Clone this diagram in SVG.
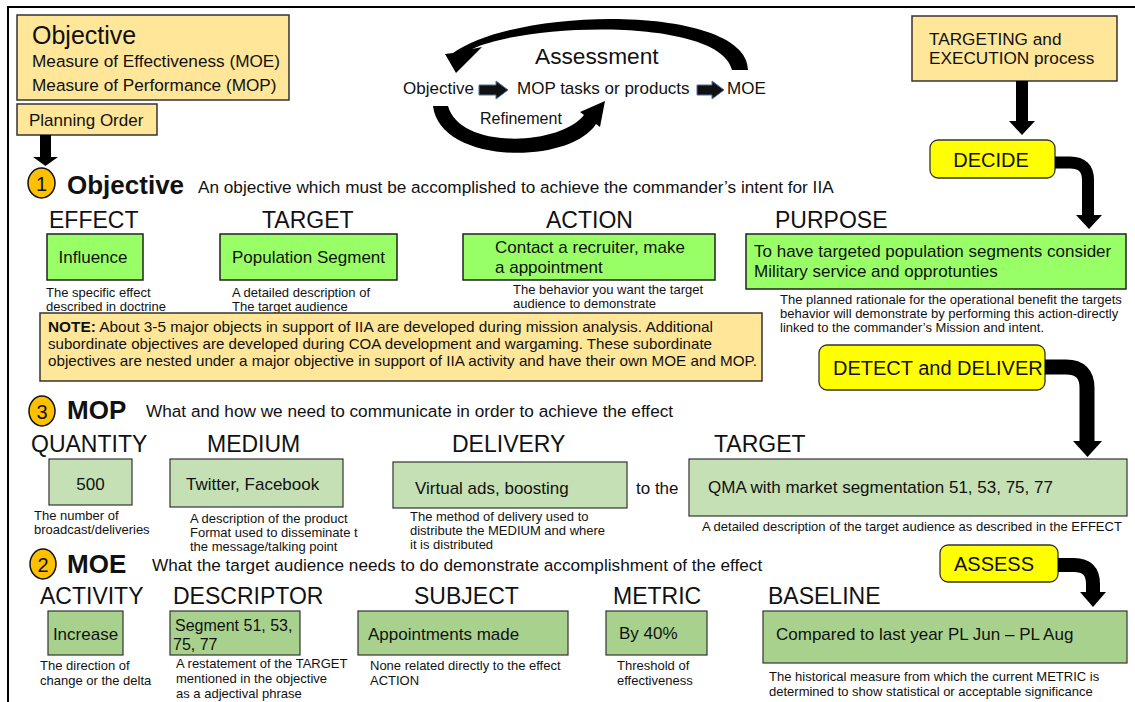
<svg xmlns="http://www.w3.org/2000/svg" width="1135" height="702" viewBox="0 0 1135 702">
<style>
text{font-family:"Liberation Sans",Arial,sans-serif;fill:#111}
.tan{fill:#FFE699;stroke:#333;stroke-width:1.5}
.g1{fill:#99FF66;stroke:#222;stroke-width:1.5}
.g2{fill:#C5E0B4;stroke:#333;stroke-width:1.2}
.g3{fill:#A9D18E;stroke:#333;stroke-width:1.2}
.yel{fill:#FFFF00;stroke:#333;stroke-width:1.3}
.num{fill:#FFC000;stroke:#111;stroke-width:1.5}
.hd{font-size:23px}
.bx{font-size:17px}
.ds{font-size:13px}
.big{font-size:26px;font-weight:bold}
.sec{font-size:17.2px}
.yt{font-size:20px}
.thick{fill:none;stroke:#000}
</style>
<rect x="0" y="0" width="1135" height="702" fill="#fff"/>
<path d="M8,702 V7 H1135" fill="none" stroke="#000" stroke-width="2"/>

<g id="legend">
<rect class="tan" x="17" y="15" width="272" height="85"/>
<text x="32" y="44" style="font-size:25px">Objective</text>
<text x="32" y="67" style="font-size:17.2px">Measure of Effectiveness (MOE)</text>
<text x="32" y="91" style="font-size:17.2px">Measure of Performance (MOP)</text>
</g>
<g id="planning-order">
<rect class="tan" x="17" y="104" width="140" height="31"/>
<text x="29" y="126" style="font-size:17px">Planning Order</text>
</g>

<g id="assessment-cycle">
<text x="535" y="64" style="font-size:22.7px">Assessment</text>
<text x="403" y="94" style="font-size:17px">Objective</text>
<text x="517" y="94" style="font-size:17px">MOP tasks or products</text>
<text x="727" y="94" style="font-size:17px">MOE</text>
<text x="480" y="124" style="font-size:16px">Refinement</text>
</g>

<g id="targeting">
<rect class="tan" x="912" y="16" width="205" height="65"/>
<text x="929" y="45" style="font-size:17.2px">TARGETING and</text>
<text x="929" y="64" style="font-size:17.2px">EXECUTION process</text>
</g>
<g id="decide">
<rect class="yel" x="930" y="140" width="125" height="38" rx="8"/>
<text x="991" y="167" text-anchor="middle" class="yt">DECIDE</text>
</g>
<g id="detect-deliver">
<rect class="yel" x="819" y="345" width="226" height="45" rx="8"/>
<text x="833" y="375" class="yt">DETECT and DELIVER</text>
</g>
<g id="assess">
<rect class="yel" x="940" y="545" width="118" height="37" rx="8"/>
<text x="954" y="571" class="yt">ASSESS</text>
</g>

<g id="objective-section">
<ellipse class="num" cx="41.5" cy="183" rx="13.5" ry="15"/>
<text x="41.5" y="191" text-anchor="middle" style="font-size:20px">1</text>
<text x="67" y="194" class="big">Objective</text>
<text x="198" y="193" class="sec">An objective which must be accomplished to achieve the commander’s intent for IIA</text>
</g>
<g id="effect">
<text x="49" y="228" class="hd">EFFECT</text>
<rect class="g1" x="47" y="234" width="96" height="46"/>
<text x="93" y="263" text-anchor="middle" class="bx">Influence</text>
<text x="46" y="297" class="ds">The specific effect</text>
<text x="46" y="311" class="ds">described in doctrine</text>
</g>
<g id="target-obj">
<text x="262" y="228" class="hd">TARGET</text>
<rect class="g1" x="220" y="234" width="177" height="46"/>
<text x="308.5" y="263" text-anchor="middle" class="bx">Population Segment</text>
<text x="232" y="297" class="ds">A detailed description of</text>
<text x="232" y="311" class="ds">The target audience</text>
</g>
<g id="action">
<text x="546" y="228" class="hd">ACTION</text>
<rect class="g1" x="463" y="234" width="252" height="46"/>
<text x="495" y="253" class="bx">Contact a recruiter, make</text>
<text x="495" y="273" class="bx">a appointment</text>
<text x="513" y="294" class="ds">The behavior you want the target</text>
<text x="513" y="308" class="ds">audience to demonstrate</text>
</g>
<g id="purpose">
<text x="775" y="228" class="hd">PURPOSE</text>
<rect class="g1" x="746" y="234" width="380" height="55"/>
<text x="754" y="257" class="bx">To have targeted population segments consider</text>
<text x="754" y="277" class="bx">Military service and opprotunties</text>
<text x="780" y="304" class="ds">The planned rationale for the operational benefit the targets</text>
<text x="780" y="318" class="ds">behavior will demonstrate by performing this action-directly</text>
<text x="780" y="332" class="ds">linked to the commander’s Mission and intent.</text>
</g>
<g id="note">
<rect class="tan" x="40" y="313" width="722" height="68"/>
<text x="48" y="332" style="font-size:15px" textLength="665" lengthAdjust="spacingAndGlyphs"><tspan font-weight="bold">NOTE:</tspan>  About 3-5 major objects in support of IIA are developed during mission analysis.  Additional</text>
<text x="48" y="349" style="font-size:15px" textLength="664" lengthAdjust="spacingAndGlyphs">subordinate objectives are developed during COA development and wargaming. These subordinate</text>
<text x="48" y="366" style="font-size:15px" textLength="709" lengthAdjust="spacingAndGlyphs">objectives are nested under a major objective in support of IIA activity and have their own MOE and MOP.</text>
</g>

<g id="mop-section">
<ellipse class="num" cx="42" cy="411" rx="13" ry="15"/>
<text x="42" y="419" text-anchor="middle" style="font-size:20px">3</text>
<text x="67" y="419" class="big">MOP</text>
<text x="146" y="417" class="sec">What and how we need to communicate in order to achieve the effect</text>
</g>
<g id="quantity">
<text x="31" y="452" class="hd">QUANTITY</text>
<rect class="g2" x="49" y="459" width="83" height="46"/>
<text x="90.5" y="490" text-anchor="middle" class="bx">500</text>
<text x="34" y="520" class="ds">The number of</text>
<text x="34" y="534" class="ds">broadcast/deliveries</text>
</g>
<g id="medium">
<text x="207" y="452" class="hd">MEDIUM</text>
<rect class="g2" x="170" y="459" width="173" height="48"/>
<text x="186" y="490" class="bx">Twitter, Facebook</text>
<text x="190" y="523" class="ds">A description of the product</text>
<text x="190" y="537" class="ds">Format used to disseminate t</text>
<text x="190" y="551" class="ds">the message/talking point</text>
</g>
<g id="delivery">
<text x="452" y="452" class="hd">DELIVERY</text>
<rect class="g2" x="393" y="462" width="234" height="46"/>
<text x="415" y="494" class="bx">Virtual ads, boosting</text>
<text x="636" y="494" class="bx">to the</text>
<text x="410" y="521" class="ds">The method of delivery used to</text>
<text x="410" y="535" class="ds">distribute the MEDIUM and where</text>
<text x="410" y="549" class="ds">it is distributed</text>
</g>
<g id="target-mop">
<text x="714" y="452" class="hd">TARGET</text>
<rect class="g2" x="689" y="459" width="438" height="57"/>
<text x="708" y="493" class="bx">QMA with market segmentation 51, 53, 75, 77</text>
<text x="702" y="531" class="ds">A detailed description of the target audience as described in the EFFECT</text>
</g>

<g id="moe-section">
<ellipse class="num" cx="43" cy="564" rx="13" ry="15"/>
<text x="43" y="572" text-anchor="middle" style="font-size:20px">2</text>
<text x="67" y="573" class="big">MOE</text>
<text x="152" y="571" class="sec">What the target audience needs to do demonstrate accomplishment of the effect</text>
</g>
<g id="activity">
<text x="40" y="604" class="hd">ACTIVITY</text>
<rect class="g3" x="48" y="611" width="75" height="44"/>
<text x="85.5" y="640" text-anchor="middle" class="bx">Increase</text>
<text x="40" y="670" class="ds">The direction of</text>
<text x="40" y="685" class="ds">change or the delta</text>
</g>
<g id="descriptor">
<text x="173" y="604" class="hd">DESCRIPTOR</text>
<rect class="g3" x="170" y="611" width="130" height="44"/>
<text x="175" y="631" style="font-size:16px">Segment 51, 53,</text>
<text x="173" y="650" style="font-size:16px">75, 77</text>
<text x="176" y="668" class="ds">A restatement of the TARGET</text>
<text x="176" y="683" class="ds">mentioned in the objective</text>
<text x="176" y="698" class="ds">as a adjectival phrase</text>
</g>
<g id="subject">
<text x="414" y="604" class="hd">SUBJECT</text>
<rect class="g3" x="358" y="611" width="210" height="44"/>
<text x="368" y="640" class="bx">Appointments made</text>
<text x="370" y="670" class="ds">None related directly to the effect</text>
<text x="370" y="685" class="ds">ACTION</text>
</g>
<g id="metric">
<text x="613" y="604" class="hd">METRIC</text>
<rect class="g3" x="606" y="611" width="101" height="44"/>
<text x="619" y="639" class="bx">By 40%</text>
<text x="617" y="670" class="ds">Threshold of</text>
<text x="617" y="685" class="ds">effectiveness</text>
</g>
<g id="baseline">
<text x="768" y="604" class="hd">BASELINE</text>
<rect class="g3" x="763" y="611" width="364" height="52"/>
<text x="776" y="640" class="bx">Compared to last year PL Jun – PL Aug</text>
<text x="769" y="681" class="ds">The historical measure from which the current METRIC is</text>
<text x="769" y="696" class="ds">determined to show statistical or acceptable significance</text>
</g>

<g id="connectors">
<rect x="40" y="135" width="11" height="23" fill="#000"/>
<polygon points="33,157 58,157 45.5,166" fill="#000"/>
<path d="M748,70 C748,5 520,5 453,53 L445,54 L456,73 L482,47 L472,49 C530,22 720,18 732,70 Z" fill="#000"/>
<path d="M433,106 C440,165 570,165 596,124 L600,127 L605,101 L580,112 L584,115 C560,146 460,150 448,106 Z" fill="#000"/>
<polygon points="479,85 496,85 496,81 508,90 496,99 496,95 479,95" fill="#111" stroke="#4F6F9F" stroke-width="1"/>
<polygon points="697,85 712,85 712,81 724,90 712,99 712,95 697,95" fill="#111" stroke="#4F6F9F" stroke-width="1"/>
<rect x="1016" y="81" width="12" height="41" fill="#000"/>
<polygon points="1009,121 1035,121 1022,135" fill="#000"/>
<path class="thick" stroke-width="12" d="M1055,162.5 H1070 Q1088,162.5 1088,180 V216"/>
<polygon points="1076,215 1102,215 1089,229" fill="#000"/>
<path class="thick" stroke-width="15" d="M1045,367 H1066 Q1087,367 1087,388 V442"/>
<polygon points="1073,441 1102,441 1087.5,457" fill="#000"/>
<path class="thick" stroke-width="14" d="M1058,565 H1074 Q1093,565 1093,584 V593"/>
<polygon points="1080,592 1106,592 1093,607" fill="#000"/>
</g>
</svg>
